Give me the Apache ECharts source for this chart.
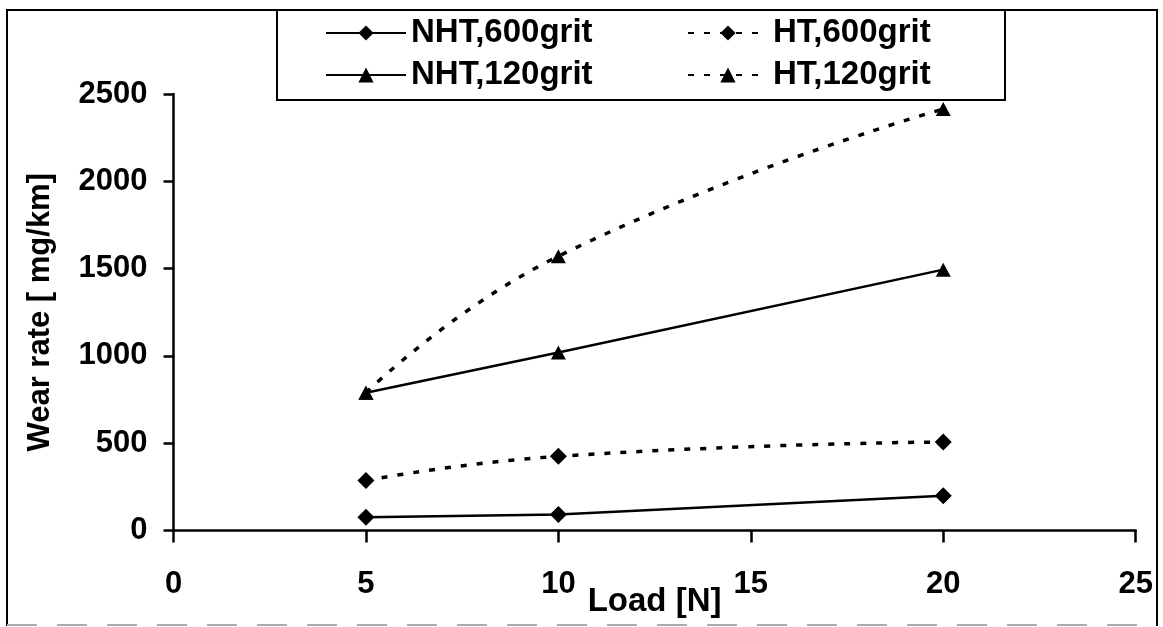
<!DOCTYPE html>
<html>
<head>
<meta charset="utf-8">
<script src="https://cdn.jsdelivr.net/npm/echarts@6/dist/echarts.min.js"></script>
<style>
  html, body { margin: 0; padding: 0; background: #fff; }
  #main { width: 1163px; height: 627px; }
</style>
</head>
<body>
<div id="main"></div>
<script>
// load in N
var loads = [5, 10, 20];
// wear rate in mg/km
var nht600 = [76, 92, 199];
var ht600 = [287, 425, 507];
var nht120 = [789, 1019, 1494];
var ht120 = [789, 1571, 2414];

var xTicks = { min: 0, max: 25, step: 5 };
var yTicks = { min: 0, max: 2500, step: 500 };

var FONT = "'Liberation Sans', Arial, sans-serif";

function pairs(xs, ys) {
  return xs.map(function (x, i) { return [x, ys[i]]; });
}

var solid = { color: '#000', width: 2.5, type: 'solid' };
var dotted = { color: '#000', width: 3.5, type: [6, 10] };
var diamond = { symbol: 'diamond', symbolSize: [17, 17] };
var triangle = { symbol: 'triangle', symbolSize: [15, 14] };

var legendText = { fontSize: 33, fontWeight: 'bold', color: '#000', fontFamily: FONT };

var myChart = echarts.init(document.getElementById('main'));
myChart.setOption({
  backgroundColor: '#fff',
  animation: false,
  grid: { left: 173.5, right: 27.3, top: 94, bottom: 96.5, containLabel: false, outerBoundsMode: 'none' },
  legend: [
    {
      left: 325, top: 16.5, orient: 'vertical', padding: 0, itemGap: 9,
      itemWidth: 80, itemHeight: 19,
      data: ['NHT,600grit', 'NHT,120grit'],
      textStyle: legendText
    },
    {
      left: 687, top: 16.5, orient: 'vertical', padding: 0, itemGap: 9,
      itemWidth: 80, itemHeight: 19,
      data: ['HT,600grit', 'HT,120grit'],
      textStyle: legendText
    }
  ],
  graphic: [
    // outer frame (bottom edge is faint in the scan)
    { type: 'polyline', shape: { points: [[7, 626], [7, 10], [1157, 10], [1157, 626]] },
      style: { stroke: '#000', lineWidth: 2, fill: null }, z: 10 },
    { type: 'line', shape: { x1: 7, y1: 625, x2: 1157, y2: 625 },
      style: { stroke: '#aaa', lineWidth: 2, lineDash: [30, 20] }, z: 10 },
    // legend box
    { type: 'rect', shape: { x: 277, y: 10, width: 728, height: 90 },
      style: { stroke: '#000', lineWidth: 2, fill: null }, z: 10 }
  ],
  xAxis: {
    type: 'value', min: xTicks.min, max: xTicks.max, interval: xTicks.step,
    name: 'Load [N]', nameLocation: 'middle', nameGap: 55, nameMoveOverlap: false,
    nameTextStyle: { fontSize: 33, fontWeight: 'bold', color: '#000', fontFamily: FONT },
    splitLine: { show: false },
    axisLine: { onZero: false, lineStyle: { color: '#000', width: 2.5 } },
    axisTick: { show: true, length: 12, lineStyle: { color: '#000', width: 2.5 } },
    axisLabel: { margin: 38, fontSize: 31, fontWeight: 'bold', color: '#000', fontFamily: FONT,
      formatter: function (v) { return String(v); } }
  },
  yAxis: {
    type: 'value', min: yTicks.min, max: yTicks.max, interval: yTicks.step,
    name: 'Wear rate [ mg/km]', nameLocation: 'middle', nameGap: 118, nameMoveOverlap: false,
    nameTextStyle: { fontSize: 31, fontWeight: 'bold', color: '#000', fontFamily: FONT },
    splitLine: { show: false },
    axisLine: { show: true, lineStyle: { color: '#000', width: 2.5 } },
    axisTick: { show: true, length: 10, lineStyle: { color: '#000', width: 2.5 } },
    axisLabel: { margin: 26, fontSize: 31, fontWeight: 'bold', color: '#000', fontFamily: FONT,
      formatter: function (v) { return String(v); } }
  },
  series: [
    Object.assign({ name: 'NHT,600grit', type: 'line', data: pairs(loads, nht600),
      lineStyle: solid, itemStyle: { color: '#000' } }, diamond),
    Object.assign({ name: 'HT,600grit', type: 'line', smooth: true, data: pairs(loads, ht600),
      lineStyle: dotted, itemStyle: { color: '#000' } }, diamond),
    Object.assign({ name: 'NHT,120grit', type: 'line', data: pairs(loads, nht120),
      lineStyle: solid, itemStyle: { color: '#000' } }, triangle),
    Object.assign({ name: 'HT,120grit', type: 'line', smooth: true, data: pairs(loads, ht120),
      lineStyle: dotted, itemStyle: { color: '#000' } }, triangle)
  ]
});
</script>
</body>
</html>
